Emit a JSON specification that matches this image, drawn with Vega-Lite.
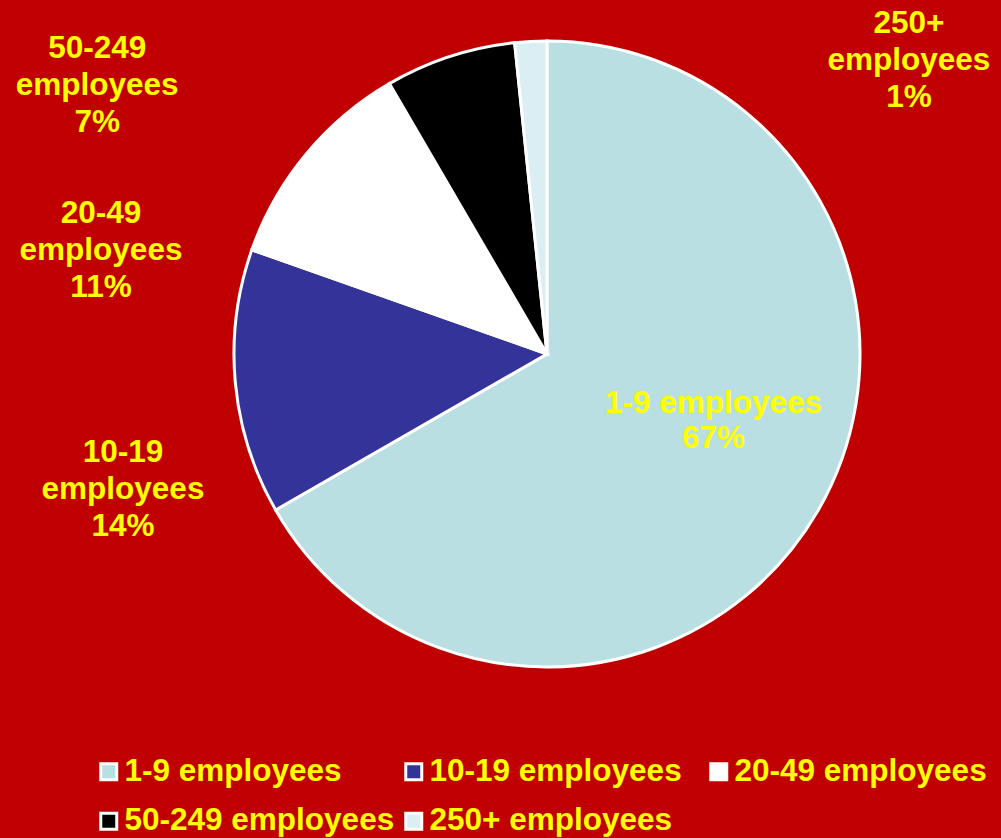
{
  "$schema": "https://vega.github.io/schema/vega-lite/v6.json",
  "width": 906,
  "height": 708,
  "autosize": "none",
  "padding": {"left": 94, "top": 0, "right": 1, "bottom": 130},
  "background": "#C00000",
  "config": {"view": {"stroke": null}, "font": "Liberation Sans"},
  "data": {
    "values": [
      {"idx": 1, "cls": "1-9 employees", "value": 66.7, "label": "1-9 employees\n67%"},
      {"idx": 2, "cls": "10-19 employees", "value": 13.7, "label": "10-19\nemployees\n14%"},
      {"idx": 3, "cls": "20-49 employees", "value": 11.2, "label": "20-49\nemployees\n11%"},
      {"idx": 4, "cls": "50-249 employees", "value": 6.75, "label": "50-249\nemployees\n7%"},
      {"idx": 5, "cls": "250+ employees", "value": 1.65, "label": "250+\nemployees\n1%"}
    ]
  },
  "encoding": {
    "theta": {"field": "value", "type": "quantitative", "stack": true},
    "order": {"field": "idx", "type": "quantitative"}
  },
  "layer": [
    {
      "mark": {"type": "arc", "outerRadius": 313, "stroke": "#FFFFFF", "strokeWidth": 3},
      "encoding": {
        "color": {
          "field": "cls",
          "type": "nominal",
          "scale": {
            "domain": ["1-9 employees", "10-19 employees", "20-49 employees", "50-249 employees", "250+ employees"],
            "range": ["#B9DFE3", "#333399", "#FFFFFF", "#000000", "#DAEEF3"]
          },
          "legend": {
            "title": null,
            "orient": "none",
            "legendX": -1,
            "legendY": 755.5,
            "direction": "horizontal",
            "columns": 3,
            "gridAlign": "all",
            "columnPadding": 3,
            "rowPadding": 17,
            "padding": 0,
            "symbolType": "square",
            "symbolSize": 256,
            "symbolStrokeColor": "#FFFFFF",
            "symbolStrokeWidth": 3,
            "symbolOpacity": 1,
            "labelFont": "Liberation Sans",
            "labelFontSize": 31.5,
            "labelFontWeight": "bold",
            "labelColor": "#FFFF00",
            "labelLimit": 400,
            "labelOffset": 0
          }
        }
      }
    },
    {
      "mark": {"type": "text", "font": "Liberation Sans", "fontSize": 31.5, "fontWeight": "bold", "fill": "#FFFF00", "lineBreak": "\n", "lineHeight": 35, "align": "center", "baseline": "middle", "radius": 190, "dx": 2, "dy": -45},
      "encoding": {
        "detail": {"field": "cls", "type": "nominal"},
        "text": {"condition": {"test": "datum.idx === 1", "field": "label"}, "value": ""}
      }
    },
    {
      "mark": {"type": "text", "font": "Liberation Sans", "fontSize": 31.5, "fontWeight": "bold", "fill": "#FFFF00", "lineBreak": "\n", "lineHeight": 37, "align": "center", "baseline": "middle", "radius": 360, "dx": -65.5, "dy": 66},
      "encoding": {
        "detail": {"field": "cls", "type": "nominal"},
        "text": {"condition": {"test": "datum.idx === 2", "field": "label"}, "value": ""}
      }
    },
    {
      "mark": {"type": "text", "font": "Liberation Sans", "fontSize": 31.5, "fontWeight": "bold", "fill": "#FFFF00", "lineBreak": "\n", "lineHeight": 37, "align": "center", "baseline": "middle", "radius": 360, "dx": -168.6, "dy": 89},
      "encoding": {
        "detail": {"field": "cls", "type": "nominal"},
        "text": {"condition": {"test": "datum.idx === 3", "field": "label"}, "value": ""}
      }
    },
    {
      "mark": {"type": "text", "font": "Liberation Sans", "fontSize": 31.5, "fontWeight": "bold", "fill": "#FFFF00", "lineBreak": "\n", "lineHeight": 37, "align": "center", "baseline": "middle", "radius": 360, "dx": -338, "dy": 37},
      "encoding": {
        "detail": {"field": "cls", "type": "nominal"},
        "text": {"condition": {"test": "datum.idx === 4", "field": "label"}, "value": ""}
      }
    },
    {
      "mark": {"type": "text", "font": "Liberation Sans", "fontSize": 31.5, "fontWeight": "bold", "fill": "#FFFF00", "lineBreak": "\n", "lineHeight": 37, "align": "center", "baseline": "middle", "radius": 360, "dx": 380.6, "dy": 30},
      "encoding": {
        "detail": {"field": "cls", "type": "nominal"},
        "text": {"condition": {"test": "datum.idx === 5", "field": "label"}, "value": ""}
      }
    }
  ]
}
